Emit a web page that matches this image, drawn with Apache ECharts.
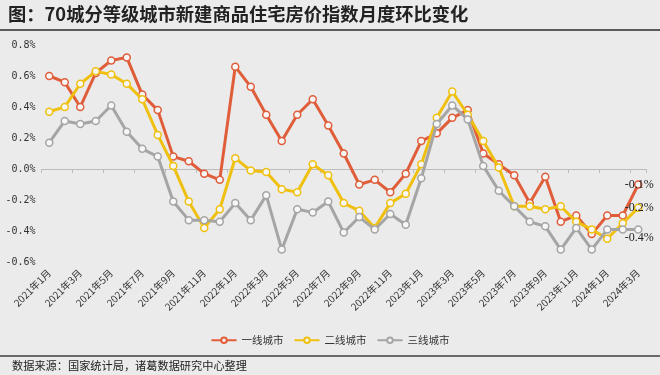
<!DOCTYPE html>
<html>
<head>
<meta charset="utf-8">
<script src="https://cdn.jsdelivr.net/npm/echarts@6/dist/echarts.min.js"></script>
<style>
html,body{margin:0;padding:0;background:#ebebeb;}
#chart{width:660px;height:375px;}
</style>
</head>
<body>
<div id="chart"></div>
<script>
const categories = [
  '2021年1月','2021年2月','2021年3月','2021年4月','2021年5月','2021年6月','2021年7月','2021年8月','2021年9月','2021年10月','2021年11月','2021年12月',
  '2022年1月','2022年2月','2022年3月','2022年4月','2022年5月','2022年6月','2022年7月','2022年8月','2022年9月','2022年10月','2022年11月','2022年12月',
  '2023年1月','2023年2月','2023年3月','2023年4月','2023年5月','2023年6月','2023年7月','2023年8月','2023年9月','2023年10月','2023年11月','2023年12月',
  '2024年1月','2024年2月','2024年3月'
];
const seriesNames = ['一线城市','二线城市','三线城市'];
const tier1 = [0.60,0.56,0.40,0.62,0.70,0.72,0.48,0.38,0.08,0.05,-0.03,-0.07,
  0.66,0.53,0.35,0.18,0.35,0.45,0.28,0.10,-0.10,-0.07,-0.15,-0.03,
  0.18,0.23,0.33,0.38,0.10,0.03,-0.04,-0.22,-0.05,-0.34,-0.30,-0.42,
  -0.30,-0.30,-0.10];
const tier2 = [0.37,0.40,0.55,0.63,0.61,0.55,0.45,0.22,0.02,-0.21,-0.38,-0.26,
  0.07,-0.01,-0.02,-0.13,-0.15,0.03,-0.04,-0.22,-0.27,-0.38,-0.22,-0.16,
  0.03,0.33,0.50,0.35,0.18,0.01,-0.24,-0.24,-0.26,-0.24,-0.34,-0.39,
  -0.45,-0.35,-0.25];
const tier3 = [0.17,0.31,0.29,0.31,0.41,0.24,0.13,0.08,-0.21,-0.33,-0.33,-0.34,
  -0.22,-0.33,-0.17,-0.52,-0.26,-0.28,-0.21,-0.41,-0.31,-0.39,-0.29,-0.36,
  -0.06,0.29,0.41,0.32,0.02,-0.14,-0.24,-0.34,-0.37,-0.52,-0.38,-0.52,
  -0.39,-0.39,-0.39];
const endLabels = ['-0.1%','-0.2%','-0.4%'];
const colors = ['#e05d3a','#f0c010','#a5a5a5'];
const labelOffsets = [[1,0],[1,0],[1,8]];

function buildData(arr, k){
  return arr.map(function(v, i){
    if (i === arr.length - 1) {
      return {value: v, label: {show: true, position: 'inside', offset: labelOffsets[k],
        formatter: endLabels[k], color: '#222', fontSize: 12, fontFamily: 'Liberation Serif'}};
    }
    return v;
  });
}

const allSeries = [tier1, tier2, tier3].map(function(arr, k){
  return {
    name: seriesNames[k],
    type: 'line',
    xAxisIndex: 0,
    data: buildData(arr, k),
    symbol: 'circle',
    symbolSize: 7,
    showAllSymbol: true,
    lineStyle: {color: colors[k], width: 3},
    itemStyle: {color: '#f7f7f7', borderColor: colors[k], borderWidth: 1.5},
    label: {show: false},
    emphasis: {disabled: true},
    animation: false,
    z: 2 + k
  };
});

const chart = echarts.init(document.getElementById('chart'), null, {renderer: 'canvas'});
chart.setOption({
  backgroundColor: '#ebebeb',
  animation: false,
  grid: {left: 41.5, right: 14, top: 45, bottom: 113, containLabel: false},
  legend: {
    data: seriesNames,
    top: 330,
    left: 'center',
    itemWidth: 25,
    itemHeight: 7,
    itemGap: 10,
    textStyle: {fontSize: 10.5, color: '#333', fontFamily: 'Noto Sans CJK SC'}
  },
  xAxis: [
    {
      type: 'category',
      data: categories,
      position: 'bottom',
      boundaryGap: true,
      axisLine: {show: false, onZero: false},
      axisTick: {show: false},
      axisLabel: {interval: 1, rotate: 45, fontSize: 10, color: '#333', margin: 9, fontFamily: 'Noto Sans CJK SC'},
      splitLine: {show: false}
    },
    {
      type: 'category',
      data: categories,
      position: 'bottom',
      boundaryGap: true,
      axisLine: {show: true, onZero: true, lineStyle: {color: '#bcbcbc', width: 1}},
      axisTick: {show: true, interval: 1, length: 4, lineStyle: {color: '#bcbcbc'}},
      axisLabel: {show: false},
      splitLine: {show: false}
    }
  ],
  yAxis: {
    type: 'value',
    min: -0.6,
    max: 0.8,
    interval: 0.2,
    axisLine: {show: false},
    axisTick: {show: false},
    splitLine: {show: false},
    axisLabel: {
      margin: 6,
      fontSize: 10,
      color: '#333',
      fontFamily: 'DejaVu Sans Mono',
      formatter: function(v){ return v.toFixed(1) + '%'; }
    }
  },
  series: allSeries,
  graphic: [
    {type: 'text', left: 8, top: 5, style: {text: '图：70城分等级城市新建商品住宅房价指数月度环比变化',
      fontSize: 18.3, fontWeight: 'bold', fill: '#222', fontFamily: 'Noto Sans CJK SC'}},
    {type: 'rect', left: 0, top: 29, shape: {width: 660, height: 2}, style: {fill: '#5a5a5a'}},
    {type: 'rect', left: 0, top: 355, shape: {width: 660, height: 2}, style: {fill: '#6a6a6a'}},
    {type: 'text', left: 12, top: 360, style: {text: '数据来源：国家统计局，诸葛数据研究中心整理',
      fontSize: 11.2, fill: '#222', fontFamily: 'Noto Sans CJK SC'}}
  ]
});
</script>
</body>
</html>
